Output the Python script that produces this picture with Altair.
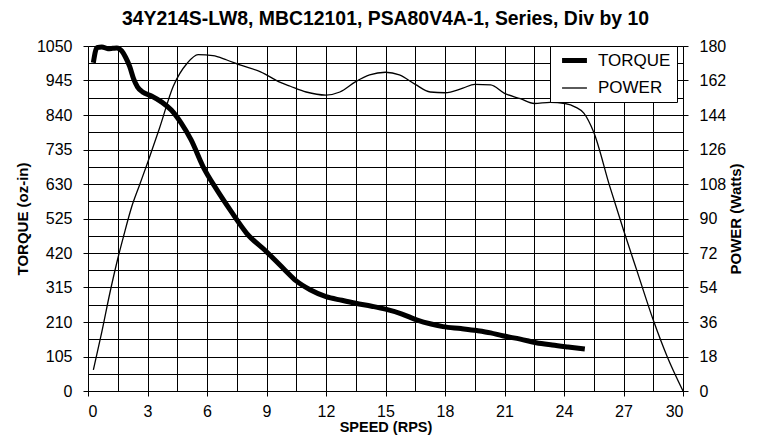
import altair as alt
import pandas as pd

# ---- data ----
torque_speed = [0.27, 0.45, 0.7, 1.0, 1.25, 1.45, 1.7, 1.9, 2.1, 2.3, 2.5, 2.75, 3.2, 3.7, 4.2,
                4.7, 5.2, 5.8, 6.5, 7.2, 8.0, 9.0, 9.85, 10.5, 11.2, 12.0, 12.8, 13.5, 14.3,
                15.0, 15.8, 16.6, 17.3, 17.9, 18.8, 19.6, 20.3, 20.9, 21.8, 22.6, 23.4, 24.2, 25.05]
torque_ozin = [999, 1045, 1047, 1042, 1043, 1044, 1035, 1015, 988, 950, 925, 910, 898, 880, 855,
               815, 764, 683, 612, 548, 480, 424, 373, 335, 308, 287, 276, 267, 258,
               249, 235, 216, 204, 196, 190, 184, 177, 168, 158, 147, 140, 134, 128]

power_speed = [0.27, 0.7, 1.1, 1.5, 1.8, 2.2, 2.6, 3.0, 3.6, 4.3, 5.0, 5.55, 6.3, 7.0, 7.7,
               8.7, 9.7, 10.2, 11.0, 12.0, 12.7, 13.5, 14.2, 15.0, 15.7, 16.5, 17.25, 18.0,
               18.9, 19.5, 20.3, 21.0, 21.8, 22.5, 23.3, 24.05, 24.6, 25.0, 25.5, 26.3, 27.0,
               27.7, 28.5, 29.2, 30.0]
power_watts = [11, 31, 51, 69, 81, 96, 107.5, 119, 137, 159, 171, 175.5, 175, 172.7, 170,
               166.5, 161, 159, 156, 154.4, 156, 161.4, 164.9, 166.3, 164.9, 160, 156, 155.6,
               158, 160, 159.7, 155.3, 152.5, 150, 150.6, 150, 148, 145, 135, 107, 84,
               62, 37, 18, 0]

series_names = ["TORQUE", "POWER"]
x_ticks = [i * 1.5 for i in range(21)]          # 0 .. 30
y_left_ticks = [i * 52.5 for i in range(21)]    # 0 .. 1050
y_right_ticks = [i * 18 for i in range(11)]     # 0 .. 180

title_text = "34Y214S-LW8, MBC12101, PSA80V4A-1, Series, Div by 10"

torque_df = pd.DataFrame({"speed": torque_speed, "value": torque_ozin, "series": "TORQUE"})
power_df = pd.DataFrame({"speed": power_speed, "value": power_watts, "series": "POWER"})

FONT = "Liberation Sans"

x_enc = alt.X(
    "speed:Q",
    scale=alt.Scale(domain=[0, 30], nice=False),
    axis=alt.Axis(
        title="SPEED (RPS)",
        values=x_ticks,
        labelExpr="datum.value % 3 == 0 ? format(datum.value, 'd') : ''",
        tickOpacity={"condition": {"test": "datum.value % 3 != 0", "value": 0}, "value": 1},
        grid=True,
        tickSize=5,
        labelPadding=7,
        titlePadding=1,
        titleFontSize=14.5,
    ),
)

color_enc = alt.Color(
    "series:N",
    scale=alt.Scale(domain=series_names, range=["black", "black"]),
    legend=alt.Legend(title=None),
)
sw_enc = alt.StrokeWidth(
    "series:N",
    scale=alt.Scale(domain=series_names, range=[5, 1.3]),
    legend=alt.Legend(title=None),
)

torque_line = alt.Chart(torque_df).mark_line(interpolate="monotone").encode(
    x=x_enc,
    y=alt.Y(
        "value:Q",
        scale=alt.Scale(domain=[0, 1050], nice=False),
        axis=alt.Axis(
            title="TORQUE (oz-in)",
            orient="left",
            values=y_left_ticks,
            labelExpr="datum.value % 105 == 0 ? format(datum.value, 'd') : ''",
            tickOpacity={"condition": {"test": "datum.value % 105 != 0", "value": 0}, "value": 1},
            grid=True,
            tickSize=5,
            labelPadding=11,
            titlePadding=6,
        ),
    ),
    color=color_enc,
    strokeWidth=sw_enc,
)

power_line = alt.Chart(power_df).mark_line(interpolate="monotone").encode(
    x=x_enc,
    y=alt.Y(
        "value:Q",
        scale=alt.Scale(domain=[0, 180], nice=False),
        axis=alt.Axis(
            title="POWER (Watts)",
            orient="right",
            values=y_right_ticks,
            grid=False,
            tickSize=5,
            labelPadding=11,
            titlePadding=18,
            titleAngle=270,
        ),
    ),
    color=color_enc,
    strokeWidth=sw_enc,
)

chart = (
    alt.layer(torque_line, power_line)
    .resolve_scale(y="independent")
    .properties(
        width=595,
        height=345,
        autosize=alt.AutoSizeParams(type="none"),
        padding={"left": 80, "top": 38, "right": 71, "bottom": 46},
        title=alt.TitleParams(
            text=title_text,
            font=FONT,
            fontSize=19.4,
            fontWeight="bold",
            anchor="middle",
            color="black",
            offset=8,
        ),
    )
    .configure(font=FONT, background="white")
    .configure_view(stroke=None)
    .configure_axis(
        labelFont=FONT,
        labelFontSize=16,
        labelColor="black",
        titleFont=FONT,
        titleFontSize=15,
        titleFontWeight="bold",
        titleColor="black",
        domainColor="black",
        domainWidth=1,
        tickColor="black",
        gridColor="black",
        gridWidth=1,
        gridOpacity=1,
    )
    .configure_legend(
        orient="none",
        legendX=462,
        legendY=0,
        strokeColor="black",
        fillColor="white",
        padding=6,
        rowPadding=7.5,
        symbolType="M-2.26,0H2.26",
        symbolSize=121,
        symbolOffset=10,
        labelOffset=15,
        labelFont=FONT,
        labelFontSize=17,
        labelColor="black",
        symbolFillColor="transparent",
    )
)

chart.save("out.html", embed_options={"renderer": "svg", "actions": False})
